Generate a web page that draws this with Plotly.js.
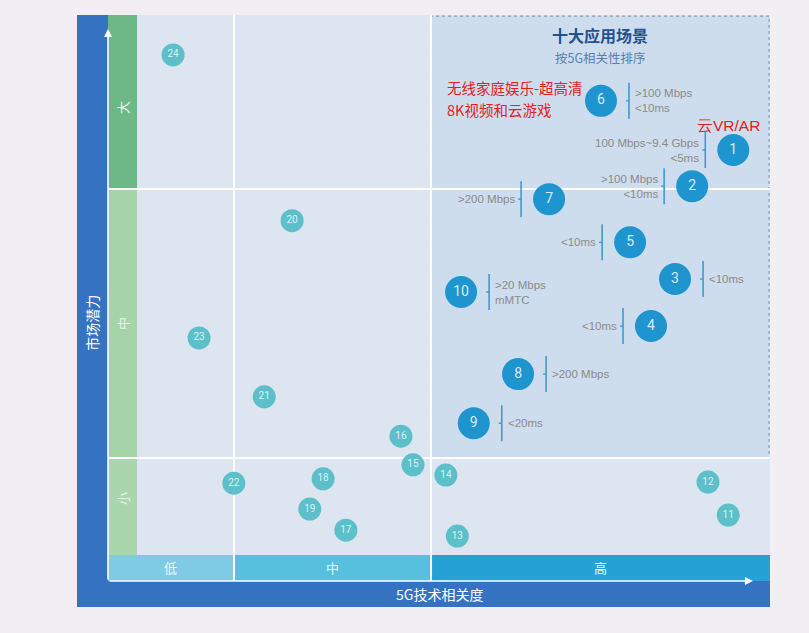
<!DOCTYPE html>
<html>
<head>
<meta charset="utf-8">
<script src="https://cdn.plot.ly/plotly-3.0.1.min.js"></script>
<style>
html,body{margin:0;padding:0;background:#f1eff3;}
#chart{width:809px;height:633px;}
</style>
</head>
<body>
<div id="chart"></div>
<script>
// ---- Data (x: 5G技术相关度 0-100, y: 市场潜力 0-100) ----
var topIds   = ['6','1','2','7','5','3','10','4','8','9'];
var topX     = [73.3, 94.2, 87.7, 65.1, 77.9, 85.0, 51.2, 81.2, 60.2, 53.2];
var topY     = [84.1, 75.0, 68.3, 65.9, 57.9, 51.1, 48.7, 42.4, 33.5, 24.4];
var topSpec  = ['&gt;100 Mbps<br>&lt;10ms', '100 Mbps~9.4 Gbps<br>&lt;5ms', '&gt;100 Mbps<br>&lt;10ms',
                '&gt;200 Mbps', '&lt;10ms', '&lt;10ms', '&gt;20 Mbps<br>mMTC', '&lt;10ms', '&gt;200 Mbps', '&lt;20ms'];
var topSide  = ['right','left','left','left','left','right','right','left','right','right'];

var otherIds = ['24','20','23','21','16','15','14','22','18','19','17','13','12','11'];
var otherX   = [5.7, 24.5, 9.8, 20.1, 41.7, 43.6, 48.8, 15.3, 29.4, 27.3, 33.0, 50.6, 90.2, 93.4];
var otherY   = [92.6, 61.9, 40.2, 29.3, 22.0, 16.7, 14.8, 13.3, 14.1, 8.5, 4.6, 3.5, 13.5, 7.4];

var xBands   = ['低','中','高'];
var yBands   = ['小','中','大'];
var noteLines = ['无线家庭娱乐-超高清', '8K视频和云游戏'];

// ---- Layout constants ----
var XL = -4.58, XB1 = 15.32, XB2 = 46.45, XR = 100;
var YB = -4.81, YB1 = 17.96, YB2 = 67.78, YT = 100;
var CJK = '"Noto Sans CJK SC", sans-serif';
var LAT = '"Liberation Sans", Arial, sans-serif';

var shapes = [
  {type:'rect', x0:0, x1:XR, y0:0, y1:YT, fillcolor:'#dce5f0', line:{width:0}, layer:'below'},
  {type:'rect', x0:XB2, x1:XR-0.15, y0:YB1, y1:YT-0.2, fillcolor:'#cedded', line:{color:'#8d9cb4', width:1.2, dash:'dot'}, layer:'below'},
  {type:'rect', x0:XL, x1:0, y0:YB2, y1:YT, fillcolor:'#6db886', line:{width:0}, layer:'below'},
  {type:'rect', x0:XL, x1:0, y0:YB1, y1:YB2, fillcolor:'#a5d4a9', line:{width:0}, layer:'below'},
  {type:'rect', x0:XL, x1:0, y0:0, y1:YB1, fillcolor:'#a9d6ad', line:{width:0}, layer:'below'},
  {type:'rect', x0:XL, x1:XB1, y0:YB, y1:0, fillcolor:'#7fcae4', line:{width:0}, layer:'below'},
  {type:'rect', x0:XB1, x1:XB2, y0:YB, y1:0, fillcolor:'#58c0df', line:{width:0}, layer:'below'},
  {type:'rect', x0:XB2, x1:XR, y0:YB, y1:0, fillcolor:'#25a1d5', line:{width:0}, layer:'below'},
  {type:'line', x0:XB1, x1:XB1, y0:YB, y1:YT, line:{color:'#ffffff', width:2}, layer:'below'},
  {type:'line', x0:XB2, x1:XB2, y0:YB, y1:YT, line:{color:'#ffffff', width:2}, layer:'below'},
  {type:'line', x0:XL, x1:XR, y0:YB1, y1:YB1, line:{color:'#ffffff', width:2}, layer:'below'},
  {type:'line', x0:XL, x1:XR, y0:YB2, y1:YB2, line:{color:'#ffffff', width:2}, layer:'below'}
];

var annotations = [];

// brackets and spec labels for the top ten
for (var i = 0; i < topIds.length; i++) {
  var s = topSide[i] === 'right' ? 1 : -1;
  shapes.push({type:'line', xref:'x', yref:'y', xsizemode:'pixel', ysizemode:'pixel',
    xanchor: topX[i], yanchor: topY[i], x0: s*28, x1: s*28, y0: -18, y1: 18,
    line:{color:'#3d9ad6', width:1.6}});
  shapes.push({type:'line', xref:'x', yref:'y', xsizemode:'pixel', ysizemode:'pixel',
    xanchor: topX[i], yanchor: topY[i], x0: s*28-3, x1: s*28, y0: 0, y1: 0,
    line:{color:'#3d9ad6', width:1.4}});
  annotations.push({x: topX[i], y: topY[i], xref:'x', yref:'y', text: topSpec[i], showarrow:false,
    xanchor: s > 0 ? 'left' : 'right', align: s > 0 ? 'left' : 'right', xshift: s*32,
    font:{family:LAT, size:11.5, color:'#8a8a8a'}});
}

// band labels
var xbc = [(XL+XB1)/2, (XB1+XB2)/2, (XB2+XR)/2];
for (var j = 0; j < xBands.length; j++) {
  annotations.push({x: xbc[j], y: YB/2, text: xBands[j], showarrow:false,
    font:{family:CJK, size:13, color:'#eef8fc'}});
}
var ybc = [YB1/2 + 1.5, (YB1+YB2)/2, (YB2+YT)/2 - 1];
for (var k = 0; k < yBands.length; k++) {
  annotations.push({x: XL/2, y: ybc[k], text: yBands[k], showarrow:false, textangle:-90,
    font:{family:CJK, size:13, color:'#e8f5ea'}});
}

// axis titles
annotations.push({x: -7.1, y: 43, text:'市场潜力', showarrow:false, textangle:-90,
  font:{family:CJK, size:14, color:'#ffffff'}});
annotations.push({x: 47.8, y: -7.3, text:'5G技术相关度', showarrow:false,
  font:{family:CJK, size:14, color:'#ffffff'}});

// axis arrows
annotations.push({x: XL, y: 97.4, ax: XL, ay: YB, axref:'x', ayref:'y', text:'', showarrow:true,
  arrowhead:2, arrowsize:1, arrowwidth:1.6, arrowcolor:'#ffffff'});
annotations.push({x: 97.3, y: YB, ax: XL, ay: YB, axref:'x', ayref:'y', text:'', showarrow:true,
  arrowhead:2, arrowsize:1, arrowwidth:1.6, arrowcolor:'#ffffff'});

// titles in the box
annotations.push({x: 73.2, y: 96.3, text:'<b>十大应用场景</b>', showarrow:false,
  font:{family:CJK, size:16, color:'#23508e'}});
annotations.push({x: 73.2, y: 92.2, text:'按5G相关性排序', showarrow:false,
  font:{family:CJK, size:12.5, color:'#5a7fae'}});

// red notes
var noteY = [86.5, 82.5];
for (var n = 0; n < noteLines.length; n++) {
  annotations.push({x: 48.6, y: noteY[n], text: noteLines[n], showarrow:false,
    xanchor:'left', font:{family:CJK, size:14.5, color:'#e4201c'}});
}
annotations.push({x: 88.2, y: 79.5, text:'云VR/AR', showarrow:false, xanchor:'left',
  font:{family:LAT, size:15.5, color:'#e4201c'}});

var traces = [
  {type:'scatter', mode:'markers+text', x: otherX, y: otherY, text: otherIds,
   textposition:'middle center', hoverinfo:'skip',
   marker:{size:23, color:'#5cbfc9', line:{width:0}},
   textfont:{family:'Roboto, sans-serif', size:10, color:'#dff3f5'}},
  {type:'scatter', mode:'markers+text', x: topX, y: topY, text: topIds,
   textposition:'middle center', hoverinfo:'skip',
   marker:{size:32, color:'#1f95cf', line:{width:0}},
   textfont:{family:'Roboto, sans-serif', size:14, color:'#d6edf8'}}
];

var layout = {
  width: 809, height: 633,
  margin: {l:77, r:39, t:15, b:26, pad:0},
  paper_bgcolor:'#f1eff3',
  plot_bgcolor:'#3573c2',
  showlegend:false,
  xaxis:{range:[-9.479, 100], showgrid:false, zeroline:false, showticklabels:false, showline:false, ticks:'', fixedrange:true},
  yaxis:{range:[-9.63, 100], showgrid:false, zeroline:false, showticklabels:false, showline:false, ticks:'', fixedrange:true},
  shapes: shapes,
  annotations: annotations
};

Plotly.newPlot('chart', traces, layout, {displayModeBar:false, staticPlot:true});
</script>
</body>
</html>
